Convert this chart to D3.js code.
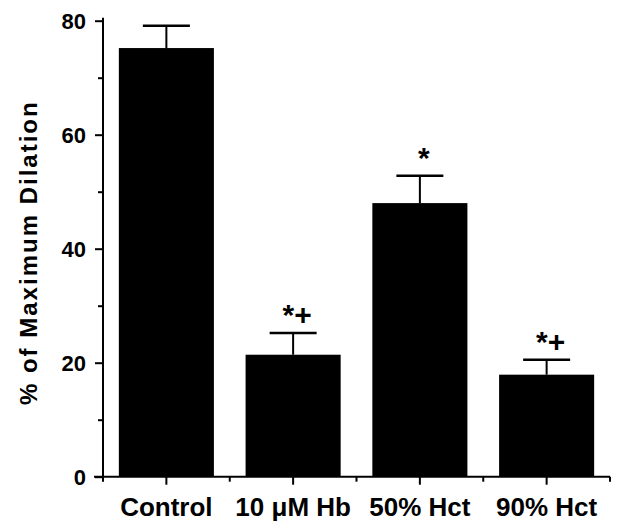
<!DOCTYPE html>
<html>
<head>
<meta charset="utf-8">
<script src="https://cdn.jsdelivr.net/npm/d3@7"></script>
<style>
  body { margin: 0; background: #fff; }
  text { font-family: "Liberation Sans", Arial, sans-serif; font-weight: bold; }
</style>
</head>
<body>
<div id="chart"></div>
<script>
var width = 622;
var height = 525;

// values
var groups = ["Control", "10 \u03BCM Hb", "50% Hct", "90% Hct"];
var means = [75.2, 21.4, 48.0, 17.9];
var sems = [3.9, 3.8, 4.8, 2.6];
var marks = ["", "*+", "*", "*+"];
var yTicks = [0, 20, 40, 60, 80];
var yMinor = [10, 30, 50, 70];

var margin = {top: 20.7, right: 12, bottom: 48.3, left: 103};

var svg = d3.select("#chart").append("svg")
    .attr("width", width)
    .attr("height", height);

var x = d3.scaleBand()
    .domain(groups)
    .range([margin.left, width - margin.right])
    .paddingInner(0.25)
    .paddingOuter(0.125);

var y = d3.scaleLinear()
    .domain([0, 80])
    .range([height - margin.bottom, margin.top]);

var y0 = y(0);

// bars
svg.append("g")
    .selectAll("rect")
    .data(groups)
    .join("rect")
    .attr("x", d => x(d))
    .attr("width", x.bandwidth())
    .attr("y", (d, i) => y(means[i]))
    .attr("height", (d, i) => y0 - y(means[i]))
    .attr("fill", "#000");

// error bars (upper only)
var err = svg.append("g")
    .attr("stroke", "#000")
    .selectAll("g")
    .data(groups)
    .join("g");

err.append("line")
    .attr("x1", d => x(d) + x.bandwidth() / 2)
    .attr("x2", d => x(d) + x.bandwidth() / 2)
    .attr("y1", (d, i) => y(means[i]))
    .attr("y2", (d, i) => y(means[i] + sems[i]))
    .attr("stroke-width", 2);

err.append("line")
    .attr("x1", d => x(d) + x.bandwidth() / 2 - 23.5)
    .attr("x2", d => x(d) + x.bandwidth() / 2 + 23.5)
    .attr("y1", (d, i) => y(means[i] + sems[i]))
    .attr("y2", (d, i) => y(means[i] + sems[i]))
    .attr("stroke-width", 2.5);

// significance marks
svg.append("g")
    .selectAll("text")
    .data(groups)
    .join("text")
    .attr("x", d => x(d) + x.bandwidth() / 2 + 4)
    .attr("y", (d, i) => y(means[i] + sems[i]) - 8)
    .attr("text-anchor", "middle")
    .attr("font-size", 30)
    .text((d, i) => marks[i]);

// y axis
var yAxis = svg.append("g")
    .attr("transform", "translate(" + margin.left + ",0)")
    .call(d3.axisLeft(y).tickValues(yTicks).tickSize(8).tickPadding(9).tickSizeOuter(0));

yAxis.append("g")
    .call(d3.axisLeft(y).tickValues(yMinor).tickSize(5).tickFormat(""))
    .select(".domain").remove();

yAxis.selectAll("path, line").attr("stroke-width", 2);
yAxis.select(".domain").attr("d", "M0," + (margin.top - 3) + "V" + y0);
yAxis.selectAll("text")
    .attr("font-size", 22)
    .attr("fill", "#000")
    .attr("dy", "0.36em");

// x axis
var xAxis = svg.append("g")
    .attr("transform", "translate(0," + y0 + ")")
    .call(d3.axisBottom(x).tickSize(8).tickPadding(13).tickSizeOuter(0));

xAxis.select(".domain").attr("d", "M" + (margin.left - 9) + ",0H" + (width - margin.right));

var bounds = [0, 1, 2, 3, 4].map(i => margin.left + i * x.step());
xAxis.append("g")
    .selectAll("line")
    .data(bounds)
    .join("line")
    .attr("x1", d => d)
    .attr("x2", d => d)
    .attr("y1", 0)
    .attr("y2", 5)
    .attr("stroke", "#000");

xAxis.selectAll("path, line").attr("stroke-width", 2);
xAxis.selectAll("text")
    .attr("font-size", 26)
    .attr("fill", "#000");

// y axis title
svg.append("text")
    .attr("transform", "translate(37," + ((y(80) + y0) / 2 + 4) + ") rotate(-90)")
    .attr("text-anchor", "middle")
    .attr("font-size", 24)
    .attr("letter-spacing", 2)
    .text("% of Maximum Dilation");
</script>
</body>
</html>
